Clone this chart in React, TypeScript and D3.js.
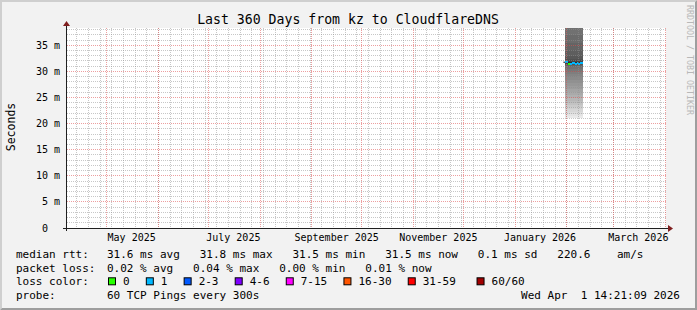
import React from "react";
import * as d3 from "d3";

const WIDTH = 697;
const HEIGHT = 310;

const chartTitle = "Last 360 Days from kz to CloudflareDNS";
const yAxisTitle = "Seconds";
const watermarkText = "RRDTOOL / TOBI OETIKER";
const graphEnd = "2026-04-01T14:21:09";
const graphEndLabel = "Wed Apr  1 14:21:09 2026";
const graphDays = 360;
const yMaxMs = 38.3;

const yTickValues = [0, 5, 10, 15, 20, 25, 30, 35];
const yTickLabels = ["0  ", "5 m", "10 m", "15 m", "20 m", "25 m", "30 m", "35 m"];
const xLabelMonths = ["2025-05-01", "2025-07-01", "2025-09-01", "2025-11-01", "2026-01-01", "2026-03-01"];

// samples (daily consolidation)
const sampleDates = [
  "2026-01-30", "2026-01-31", "2026-02-01", "2026-02-02", "2026-02-03", "2026-02-04",
  "2026-02-05", "2026-02-06", "2026-02-07", "2026-02-08", "2026-02-09", "2026-02-10",
];
const sampleEnd = "2026-02-10T18:00:00";
const medianMs = [31.75, 31.7, 31.7, 31.5, 31.5, 31.6, 31.6, 31.5, 31.6, 31.5, 31.6, 31.6];
const lossCount = [null, 1, 1, 0, 1, 1, 1, 1, 1, 1, 1, 1];

// sorted ping pairs, outermost to innermost (ms)
const smokeLowMs = [
  21.0, 21.4, 21.8, 22.2, 22.7, 23.1, 23.5, 23.9, 24.4, 24.9,
  25.5, 26.0, 26.6, 27.2, 27.8, 28.3, 28.9, 29.4, 29.9, 30.4,
  30.8, 31.0, 31.2, 31.3, 31.4, 31.45, 31.5, 31.55, 31.6, 31.6,
];
const smokeHighMs = [
  95, 85, 78, 72, 67, 63, 59, 56, 53, 50,
  48, 46, 44.5, 43, 42, 41, 40.2, 39.5, 39, 38.6,
  37.0, 35.5, 34.0, 33.0, 32.4, 32.1, 31.95, 31.85, 31.75, 31.7,
];

const lossLegendLabels = ["0", "1", "2-3", "4-6", "7-15", "16-30", "31-59", "60/60"];
const lossLegendColors = ["#26ff00", "#00b8ff", "#0059ff", "#7e00ff", "#ff00ff", "#ff5500", "#ff0000", "#a10000"];
const lossLegendMin = [0, 1, 2, 4, 7, 16, 31, 60];

const rttValues = [31.6, 31.8, 31.5, 31.5];
const rttLabels = ["avg", "max", "min", "now"];
const rttSd = 0.1;
const rttAmS = 220.6;
const lossPctValues = [0.02, 0.04, 0.0, 0.01];
const lossPctLabels = ["avg", "max", "min", "now"];
const probeText = "60 TCP Pings every 300s";

const MONO = "'DejaVu Sans Mono', monospace";

export default function App() {
  const end = new Date(graphEnd);
  const start = new Date(end.getTime() - graphDays * 86400000);
  const x = d3.scaleTime().domain([start, end]).range([66, 666]);
  const y = d3.scaleLinear().domain([0, yMaxMs]).range([228, 28]);
  const px = (v: number) => Math.floor(v) + 0.5;

  const left = 66, right = 666, top = 28, bottom = 228;

  const weeks = d3.timeSunday.range(start, end);
  const months = d3.timeMonth.range(start, end);
  const minorY = d3.range(1, Math.floor(yMaxMs) + 1).filter((v) => v % 5 !== 0);
  const majorY = yTickValues.filter((v) => v > 0);

  const dates = sampleDates.map((d) => new Date(d + "T00:00:00"));
  const endDate = new Date(sampleEnd);
  const intervals = dates.map((d, i) => ({
    x0: x(d),
    x1: x(i < dates.length - 1 ? dates[i + 1] : endDate),
    med: medianMs[i],
    loss: lossCount[i],
  }));
  const firstSmoke = intervals.find((iv) => iv.loss !== null)!;
  const smokeX0 = firstSmoke.x0;
  const smokeX1 = intervals[intervals.length - 1].x1;
  const half = smokeLowMs.length;
  const grayOf = (k: number) => {
    const c = Math.floor((190 / half) * (half - (k + 1))) + 50;
    const h = c.toString(16).padStart(2, "0");
    return "#" + h + h + h;
  };
  const swidth = yMaxMs / 200;

  const lossColor = (l: number) => {
    let idx = 0;
    lossLegendMin.forEach((m, i) => {
      if (l >= m) idx = i;
    });
    return lossLegendColors[idx];
  };

  const medLine = d3
    .line<any>()
    .x((d) => d.x)
    .y((d) => y(d.v))
    .curve(d3.curveStepAfter)(
      intervals.map((iv) => ({ x: iv.x0, v: iv.med })).concat([{ x: smokeX1, v: medianMs[medianMs.length - 1] }])
    );

  const fmtRtt = rttValues.map((v, i) => `${v.toFixed(1)} ms ${rttLabels[i]}`).join("   ");
  const line1 = `${fmtRtt}   ${rttSd.toFixed(1)} ms sd   ${rttAmS.toFixed(1)}    am/s`;
  const line2 = lossPctValues.map((v, i) => `${v.toFixed(2)} % ${lossPctLabels[i]}`).join("   ");

  const charW = 6.62;
  const legendX: number[] = [];
  let cx = 108;
  lossLegendLabels.forEach((lab, i) => {
    legendX.push(cx);
    cx += 31.2 + charW * lab.length + (i === lossLegendLabels.length - 2 ? 4.5 : 0);
  });

  const legendRows = [258, 271.7, 285.3, 299];

  return (
    <svg width={WIDTH} height={HEIGHT} style={{ display: "block", position: "absolute", left: 0, top: 0 }}>
      <rect x={0} y={0} width={WIDTH} height={HEIGHT} fill="#f2f2f2" />
      <polygon points={`0,0 ${WIDTH},0 ${WIDTH - 2},2 2,2 2,${HEIGHT - 2} 0,${HEIGHT}`} fill="#cfcfcf" />
      <polygon
        points={`${WIDTH},0 ${WIDTH},${HEIGHT} 0,${HEIGHT} 2,${HEIGHT - 2} ${WIDTH - 2},${HEIGHT - 2} ${WIDTH - 2},2`}
        fill="#9e9e9e"
      />
      <rect x={left} y={top} width={right - left} height={bottom - top} fill="#ffffff" />

      {/* smoke */}
      <g>
        {smokeLowMs.map((lo, k) => {
          const hi = Math.min(smokeHighMs[k], yMaxMs);
          return (
            <rect
              key={"s" + k}
              x={smokeX0}
              width={smokeX1 - smokeX0}
              y={y(hi)}
              height={y(lo) - y(hi)}
              fill={grayOf(k)}
              shapeRendering="crispEdges"
            />
          );
        })}
      </g>

      {/* median */}
      <path d={medLine || ""} fill="none" stroke="#202020" strokeWidth={1} />
      {intervals
        .filter((iv) => iv.loss !== null)
        .map((iv, i) => (
          <rect
            key={"m" + i}
            x={iv.x0}
            width={iv.x1 - iv.x0}
            y={y(iv.med + swidth)}
            height={y(iv.med - swidth) - y(iv.med + swidth)}
            fill={lossColor(iv.loss as number)}
            shapeRendering="crispEdges"
          />
        ))}

      {/* grid */}
      <g shapeRendering="crispEdges">
        {weeks.map((d, i) => (
          <line key={"w" + i} x1={px(x(d))} x2={px(x(d))} y1={top} y2={bottom}
            stroke="rgba(143,143,143,0.5)" strokeDasharray="1,1" />
        ))}
        {minorY.map((v) => (
          <line key={"hy" + v} x1={left + 1} x2={right} y1={px(y(v))} y2={px(y(v))}
            stroke="rgba(143,143,143,0.5)" strokeDasharray="1,1" />
        ))}
        {months.map((d, i) => (
          <line key={"mo" + i} x1={px(x(d))} x2={px(x(d))} y1={top} y2={bottom}
            stroke="rgba(222,80,80,0.55)" strokeDasharray="1,1" />
        ))}
        {majorY.map((v) => (
          <line key={"my" + v} x1={left + 1} x2={right} y1={px(y(v))} y2={px(y(v))}
            stroke="rgba(222,80,80,0.55)" strokeDasharray="1,1" />
        ))}
      </g>

      {/* axes */}
      <line x1={left + 0.5} x2={left + 0.5} y1={bottom + 3} y2={top - 3} stroke="#1f1f1f" />
      <line x1={left - 3} x2={right + 3} y1={bottom + 0.5} y2={bottom + 0.5} stroke="#1f1f1f" />
      <polygon points={`${left - 3},${top - 2} ${left + 4},${top - 2} ${left + 0.5},${top - 7}`} fill="#801f1f" />
      <polygon points={`${right + 2},${bottom - 3} ${right + 2},${bottom + 4} ${right + 7},${bottom + 0.5}`} fill="#801f1f" />

      {/* y labels */}
      {yTickValues.map((v, i) => (
        <text key={"yl" + v} x={60} y={y(v)} dy="0.35em" textAnchor="end" fontFamily={MONO} fontSize={10}
          xmlSpace="preserve" style={{ whiteSpace: "pre" }} fill="#000">
          {yTickLabels[i]}
        </text>
      ))}

      {/* x labels */}
      {xLabelMonths.map((m) => {
        const d = new Date(m + "T00:00:00");
        const mid = new Date(d.getTime() + 15 * 86400000);
        return (
          <text key={m} x={x(mid)} y={240.5} textAnchor="middle" fontFamily={MONO} fontSize={10} fill="#000">
            {d3.timeFormat("%B %Y")(d)}
          </text>
        );
      })}

      {/* title */}
      <text x={348} y={24} textAnchor="middle" fontFamily={MONO} fontSize={13.2} fill="#000">
        {chartTitle}
      </text>
      <text transform={`translate(15,127) rotate(-90)`} textAnchor="middle" fontFamily={MONO} fontSize={11.5} fill="#000">
        {yAxisTitle}
      </text>
      <text transform={`translate(687,5) rotate(90)`} fontFamily={MONO} fontSize={8.3} fill="#b8b8b8" dy="0">
        {watermarkText}
      </text>

      {/* legend */}
      <g fontFamily={MONO} fontSize={11} fill="#000" style={{ whiteSpace: "pre" }}>
        <text x={16} y={legendRows[0]}>median rtt:</text>
        <text x={107} y={legendRows[0]} xmlSpace="preserve">{line1}</text>
        <text x={16} y={legendRows[1]}>packet loss:</text>
        <text x={107} y={legendRows[1]} xmlSpace="preserve">{line2}</text>
        <text x={16} y={legendRows[2]}>loss color:</text>
        {lossLegendLabels.map((lab, i) => (
          <g key={lab}>
            <rect x={legendX[i] + 0.5} y={legendRows[2] - 7.5} width={7} height={7}
              fill={lossLegendColors[i]} stroke="#000" strokeWidth={1} />
            <text x={legendX[i] + 15} y={legendRows[2]}>{lab}</text>
          </g>
        ))}
        <text x={16} y={legendRows[3]}>probe:</text>
        <text x={107} y={legendRows[3]}>{probeText}</text>
        <text x={680} y={legendRows[3]} textAnchor="end" xmlSpace="preserve">{graphEndLabel}</text>
      </g>
    </svg>
  );
}
